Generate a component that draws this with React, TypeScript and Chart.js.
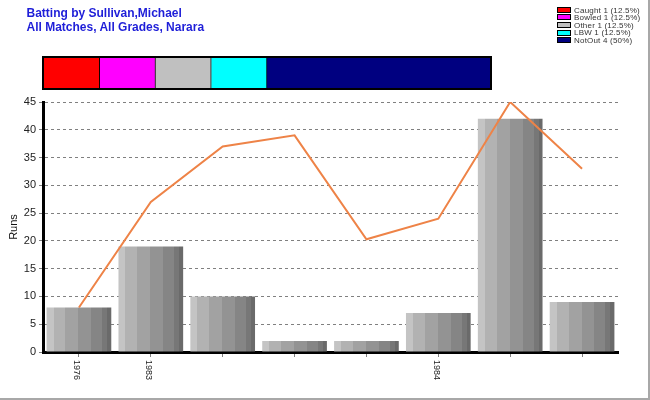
import React, { useEffect, useRef } from 'react';
import { Chart, registerables } from 'chart.js';

Chart.register(...registerables);

// ---- data ----
const titleLines = ['Batting by Sullivan,Michael', 'All Matches, All Grades, Narara'];
const categories = ['1976', '1983', '', '', '', '1984', '', ''];
const runs = [8, 19, 10, 2, 2, 7, 42, 9];
const trendLine = [8, 27, 37, 39, 20.3, 24, 45, 33];
const yTitle = 'Runs';
const yMin = 0;
const yMax = 45;
const yStep = 5;
const dismissalNames = ['Caught', 'Bowled', 'Other', 'LBW', 'NotOut'];
const dismissalCounts = [1, 1, 1, 1, 4];
const dismissalColors = ['#ff0000', '#ff00ff', '#c0c0c0', '#00ffff', '#000080'];

// ---- style ----
const FONT = '"Liberation Sans", Arial, sans-serif';
const BAR_PCT = 0.9;
const bandColors = ['#c4c4c4', '#b2b2b2', '#a2a2a2', '#939393', '#858585', '#777777', '#6a6a6a'];
const bandStops = [0, 0.108, 0.292, 0.492, 0.692, 0.862, 0.938, 1];

const barFill = (ctx: any) => {
  const chart = ctx.chart;
  const area = chart.chartArea;
  const xs = chart.scales && chart.scales.x;
  if (!area || !xs) return bandColors[3];
  const cx = xs.getPixelForValue(ctx.dataIndex);
  const w = (area.width / categories.length) * BAR_PCT;
  const g = chart.ctx.createLinearGradient(cx - w / 2, 0, cx + w / 2, 0);
  for (let i = 0; i < bandColors.length; i++) {
    g.addColorStop(bandStops[i], bandColors[i]);
    g.addColorStop(bandStops[i + 1], bandColors[i]);
  }
  return g;
};

const xLabelPlugin = {
  id: 'xLabelsDown',
  afterDraw(chart: any) {
    const xs = chart.scales.x;
    const ctx = chart.ctx;
    ctx.save();
    ctx.font = `9px ${FONT}`;
    ctx.fillStyle = '#222';
    ctx.textAlign = 'left';
    ctx.textBaseline = 'middle';
    categories.forEach((lab, i) => {
      if (!lab) return;
      const x = xs.getPixelForTick(i) - 2;
      ctx.save();
      ctx.translate(x, chart.chartArea.bottom + 8);
      ctx.rotate(Math.PI / 2);
      ctx.fillText(lab, 0, 0);
      ctx.restore();
    });
    ctx.restore();
  },
};

export default function App() {
  const mainRef = useRef<HTMLCanvasElement>(null);
  const stripRef = useRef<HTMLCanvasElement>(null);

  useEffect(() => {
    document.body.style.margin = '0';
    const total = dismissalCounts.reduce((a, b) => a + b, 0);

    const main = new Chart(mainRef.current as HTMLCanvasElement, {
      type: 'bar',
      data: {
        labels: categories,
        datasets: [
          {
            type: 'line',
            data: trendLine,
            borderColor: '#ee8347',
            borderWidth: 2,
            pointRadius: 0,
            tension: 0,
            fill: false,
            order: 0,
          } as any,
          {
            type: 'bar',
            data: runs,
            backgroundColor: barFill,
            borderWidth: 0,
            barPercentage: BAR_PCT,
            categoryPercentage: 1,
            order: 1,
          } as any,
        ],
      },
      options: {
        responsive: false,
        animation: false,
        layout: { padding: { left: 0, top: 102, right: 32, bottom: 0 } },
        plugins: {
          legend: { display: false },
          tooltip: { enabled: false },
        },
        scales: {
          x: {
            grid: { drawOnChartArea: false, offset: false, tickLength: 5, color: '#808080' },
            border: { width: 3, color: '#000' },
            ticks: { color: 'rgba(0,0,0,0)', autoSkip: false, maxRotation: 0, minRotation: 0 },
            afterFit: (s: any) => {
              s.height = 48;
            },
          },
          y: {
            min: yMin,
            max: yMax,
            ticks: { stepSize: yStep, font: { family: FONT, size: 11 }, color: '#222', padding: 3 },
            grid: {
              color: (c: any) => (c.tick && c.tick.value === 0 ? 'rgba(0,0,0,0)' : '#808080'),
              tickColor: '#808080',
              tickLength: 4,
            },
            border: { width: 3, color: '#000', dash: [3, 3] },
            title: {
              display: true,
              text: yTitle,
              font: { family: FONT, size: 11 },
              color: '#111',
              padding: { top: 7, bottom: 0 },
            },
            afterFit: (s: any) => {
              s.width = 43;
            },
          },
        },
      } as any,
      plugins: [xLabelPlugin],
    });

    const strip = new Chart(stripRef.current as HTMLCanvasElement, {
      type: 'bar',
      data: {
        labels: [''],
        datasets: dismissalNames.map((n, i) => ({
          label: n,
          data: [dismissalCounts[i]],
          backgroundColor: dismissalColors[i],
          borderColor: '#000',
          borderWidth: { top: 0, bottom: 0, left: 0, right: i < dismissalNames.length - 1 ? 1 : 0 },
          borderSkipped: false,
          barPercentage: 1,
          categoryPercentage: 1,
        })) as any,
      },
      options: {
        indexAxis: 'y',
        responsive: false,
        animation: false,
        layout: { padding: 0 },
        plugins: { legend: { display: false }, tooltip: { enabled: false } },
        scales: {
          x: { stacked: true, display: false, min: 0, max: total },
          y: { stacked: true, display: false },
        },
      } as any,
    });

    return () => {
      main.destroy();
      strip.destroy();
    };
  }, []);

  const total = dismissalCounts.reduce((a, b) => a + b, 0);

  return (
    <div style={{ position: 'relative', width: 650, height: 400, background: '#fff', overflow: 'hidden' }}>
      <canvas ref={mainRef} width={650} height={400} style={{ position: 'absolute', left: 0, top: 0 }} />
      {titleLines.map((t, i) => (
        <div
          key={i}
          style={{
            position: 'absolute',
            left: 26.5,
            top: 5.5 + i * 14.3,
            font: `bold 12px ${FONT}`,
            lineHeight: '14px',
            color: '#1e1ed8',
            whiteSpace: 'nowrap',
          }}
        >
          {t}
        </div>
      ))}
      <div
        style={{
          position: 'absolute',
          left: 42,
          top: 56,
          width: 446,
          height: 30,
          border: '2px solid #000',
        }}
      >
        <canvas ref={stripRef} width={446} height={30} style={{ display: 'block' }} />
      </div>
      {dismissalNames.map((n, i) => {
        const pct = (dismissalCounts[i] / total) * 100;
        return (
          <div
            key={n}
            style={{ position: 'absolute', left: 557, top: 6.7 + i * 7.6, height: 8, whiteSpace: 'nowrap' }}
          >
            <div
              style={{
                position: 'absolute',
                left: 0,
                top: 0,
                width: 12,
                height: 4,
                border: '1px solid #000',
                background: dismissalColors[i],
              }}
            />
            <div
              style={{
                position: 'absolute',
                left: 17,
                top: -0.2,
                font: `8px ${FONT}`,
                lineHeight: '8px',
                letterSpacing: '0.2px',
                color: '#333',
              }}
            >
              {`${n} ${dismissalCounts[i]} (${pct}%)`}
            </div>
          </div>
        );
      })}
      <div style={{ position: 'absolute', right: 0, top: 0, width: 2, height: 400, background: '#a8a8a8' }} />
      <div style={{ position: 'absolute', left: 0, bottom: 0, width: 650, height: 2, background: '#a8a8a8' }} />
    </div>
  );
}
